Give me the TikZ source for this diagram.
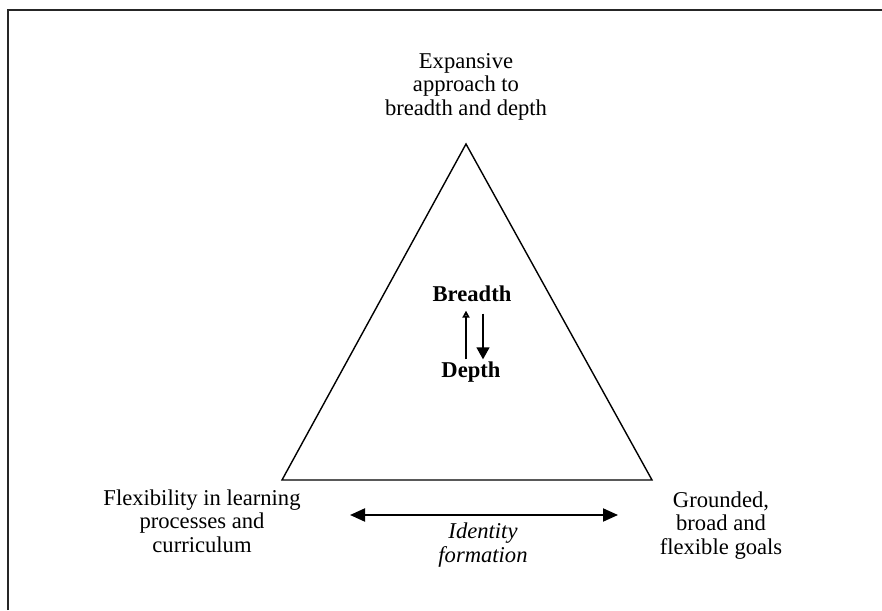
\documentclass[tikz,border=0pt]{standalone}
\usepackage{fontspec}
\setmainfont{Liberation Serif}
\usetikzlibrary{arrows.meta}

\begin{document}
\begin{tikzpicture}[x=0.5pt, y=0.5pt,
    corner text/.style={align=center, anchor=north, inner sep=0pt,
      font=\fontsize{11.3}{11.8}\selectfont},
    inner word/.style={anchor=base, inner xsep=0pt,
      font=\fontsize{11.3}{12}\selectfont\bfseries}]
    \useasboundingbox (0,0) rectangle (882,610);
    % 边框（只有左边和上边）
    \draw[line width=1pt, black!85] (8,0) -- (8,600) -- (882,600);
    % 三角形
    \coordinate (tip)   at (466,466);
    \coordinate (baseL) at (282,130);
    \coordinate (baseR) at (652,130);
    \draw[line width=0.7pt] (tip) -- (baseL) -- (baseR) -- cycle;
    % 三个顶点的文字
    \node[corner text] (expansive) at (466,557) {Expansive\\approach to\\breadth and depth};
    \node[corner text] (flexibility) at (202,121) {Flexibility in learning\\processes and\\curriculum};
    \node[corner text] (grounded) at (721,119) {Grounded,\\broad and\\flexible goals};
    % 中间：广度与深度
    \node[inner word, inner ysep=4pt] (breadth) at (472,308) {Breadth};
    \node[inner word, inner ysep=1.3pt] (depth) at (471,232) {Depth};
    \draw[line width=0.9pt, -{Triangle[open, width=3.5pt, length=3.5pt]}]
      ([xshift=-3pt]breadth.south |- depth.north) -- ([xshift=-3pt]breadth.south);
    \draw[line width=0.7pt, shorten <=1.5pt, -{Triangle[width=6.5pt, length=6pt]}]
      ([xshift=5.5pt]breadth.south) -- ([xshift=5.5pt]breadth.south |- depth.north);
    % 底边下方的双向箭头
    \coordinate (idL) at (350,95);
    \coordinate (idR) at (618,95);
    \draw[line width=1pt, {Triangle[width=6.5pt, length=7.5pt]}-{Triangle[width=6.5pt, length=7.5pt]}]
      (idL) -- (idR);
    \node[corner text, font=\fontsize{11.3}{12}\selectfont\itshape] (identity) at (483,88) {Identity\\formation};
\end{tikzpicture}
\end{document}
